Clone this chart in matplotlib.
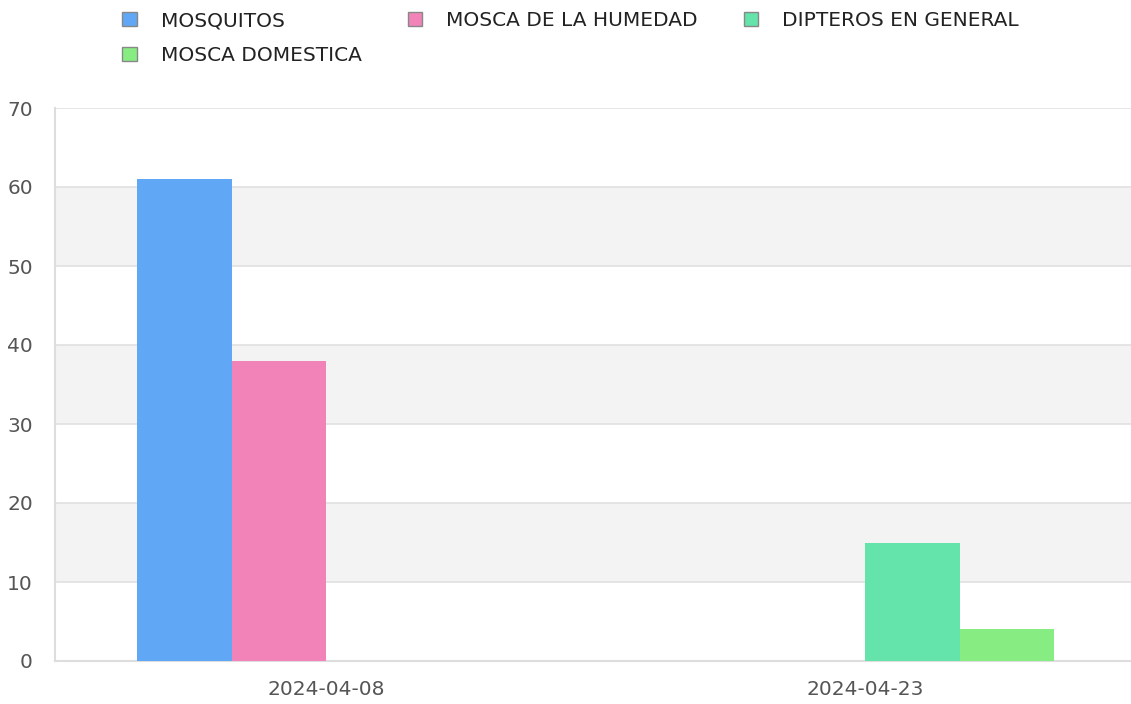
import matplotlib.pyplot as plt
import numpy as np
from matplotlib.patches import Patch

# data
fechas = ["2024-04-08", "2024-04-23"]
series = ["MOSQUITOS", "MOSCA DE LA HUMEDAD", "DIPTEROS EN GENERAL", "MOSCA DOMESTICA"]
mosquitos = [61, 0]
mosca_humedad = [38, 0]
dipteros = [0, 15]
mosca_domestica = [0, 4]
colores = ["#60a8f5", "#f283b9", "#64e3aa", "#87ed82"]

valores = [mosquitos, mosca_humedad, dipteros, mosca_domestica]

fig = plt.figure(figsize=(11.31, 7.04), dpi=100)
ax = fig.add_axes([55 / 1131, 43 / 704, 1 - 55 / 1131, (661 - 108) / 704])

x = np.arange(len(fechas))
w = 0.1753
for i, (nombre, vals) in enumerate(zip(series, valores)):
    ax.bar(x + (i - 1.5) * w, vals, width=w, color=colores[i], label=nombre, zorder=3)

# alternating bands + grid
for lo in range(10, 70, 20):
    ax.axhspan(lo, lo + 10, color="#f3f3f3", zorder=0, lw=0)
for yv in range(10, 80, 10):
    ax.axhline(yv, color="#e0e0e0", lw=1.2, zorder=1)

ax.set_xlim(-0.503, 1.493)
ax.set_ylim(0, 70)
ax.set_yticks(range(0, 80, 10))
ax.set_xticks(x)
ax.set_xticklabels(fechas)
ax.tick_params(length=0, labelsize=14.5, colors="#555555")
ax.tick_params(axis="x", pad=14)
ax.tick_params(axis="y", pad=16)
for side in ["top", "right"]:
    ax.spines[side].set_visible(False)
for side in ["left", "bottom"]:
    ax.spines[side].set_color("#dddddd")
    ax.spines[side].set_linewidth(1.5)

handles = [Patch(facecolor=c, edgecolor="#888888", lw=1) for c in colores]
orden = [0, 3, 1, 2]
leg = fig.legend([handles[k] for k in orden], [series[k] for k in orden], ncol=3,
                 loc="upper left", bbox_to_anchor=(0.094, 1.007), frameon=False,
                 fontsize=14.5, handlelength=0.7, handleheight=0.7, handletextpad=1.2,
                 columnspacing=2.3, labelspacing=0.8, borderpad=0.3)
for t in leg.get_texts():
    t.set_color("#222222")

fig.savefig("out.png", dpi=100)
